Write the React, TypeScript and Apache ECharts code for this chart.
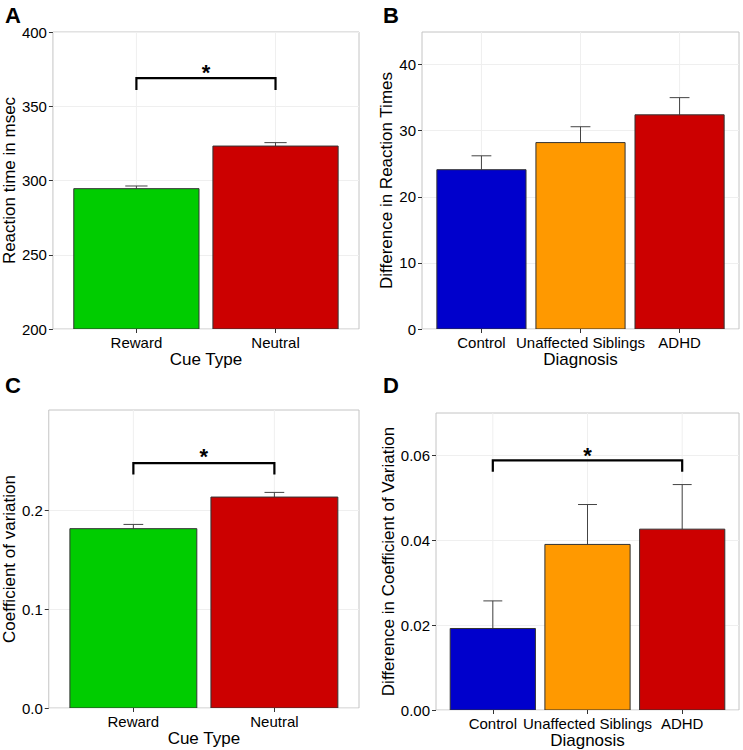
import React, { useEffect, useRef } from "react";
import * as echarts from "echarts";

// ---- Data ----
const cueCategories = ["Reward", "Neutral"];
const diagCategories = ["Control", "Unaffected Siblings", "ADHD"];
const cueColors = ["#00cc00", "#cc0000"];
const diagColors = ["#0000cc", "#ff9900", "#cc0000"];

// Panel A: reaction time (msec)
const rtMeans = [294.5, 323.2];
const rtUpper = [296.3, 325.5];
const rtYTicks = [200, 250, 300, 350, 400];
const rtBracket = [1, 2, 361, 369, 375.9];

// Panel B: difference in reaction times
const rtDiffMeans = [24.1, 28.2, 32.4];
const rtDiffUpper = [26.2, 30.6, 35.0];
const rtDiffYTicks = [0, 10, 20, 30, 40];

// Panel C: coefficient of variation
const cvMeans = [0.1815, 0.2135];
const cvUpper = [0.1858, 0.2182];
const cvYTicks = [0, 0.1, 0.2];
const cvBracket = [1, 2, 0.2364, 0.2479, 0.2597];

// Panel D: difference in coefficient of variation
const cvDiffMeans = [0.0192, 0.039, 0.0426];
const cvDiffUpper = [0.0257, 0.0484, 0.0531];
const cvDiffYTicks = [0, 0.02, 0.04, 0.06];
const cvDiffBracket = [1, 3, 0.0561, 0.0588, 0.0612];

const FONT = "Liberation Sans, Arial, Helvetica, sans-serif";

type Panel = {
  letter: string;
  grid: { left: number; top: number; width: number; height: number };
  cats: string[];
  colors: string[];
  means: number[];
  upper: number[];
  yMin: number;
  yMax: number;
  yTicks: number[];
  decimals: number;
  xName: string;
  yName: string;
  xNameGap: number;
  yNameGap: number;
  whisker: number;
  bracket?: number[];
  letterPos: [number, number];
};

const panels: Panel[] = [
  {
    letter: "A",
    grid: { left: 52, top: 32, width: 307, height: 297 },
    cats: cueCategories,
    colors: cueColors,
    means: rtMeans,
    upper: rtUpper,
    yMin: 200,
    yMax: 400,
    yTicks: rtYTicks,
    decimals: 0,
    xName: "Cue Type",
    yName: "Reaction time in msec",
    xNameGap: 21,
    yNameGap: 33,
    whisker: 0.16,
    bracket: rtBracket,
    letterPos: [5, 4],
  },
  {
    letter: "B",
    grid: { left: 422, top: 32, width: 317, height: 297 },
    cats: diagCategories,
    colors: diagColors,
    means: rtDiffMeans,
    upper: rtDiffUpper,
    yMin: 0,
    yMax: 44.93,
    yTicks: rtDiffYTicks,
    decimals: 0,
    xName: "Diagnosis",
    yName: "Difference in Reaction Times",
    xNameGap: 19,
    yNameGap: 22,
    whisker: 0.2,
    letterPos: [383, 4],
  },
  {
    letter: "C",
    grid: { left: 48, top: 410, width: 311, height: 298 },
    cats: cueCategories,
    colors: cueColors,
    means: cvMeans,
    upper: cvUpper,
    yMin: 0,
    yMax: 0.3016,
    yTicks: cvYTicks,
    decimals: 1,
    xName: "Cue Type",
    yName: "Coefficient of variation",
    xNameGap: 21,
    yNameGap: 30,
    whisker: 0.14,
    bracket: cvBracket,
    letterPos: [5, 374],
  },
  {
    letter: "D",
    grid: { left: 436, top: 413, width: 303, height: 297 },
    cats: diagCategories,
    colors: diagColors,
    means: cvDiffMeans,
    upper: cvDiffUpper,
    yMin: 0,
    yMax: 0.06996,
    yTicks: cvDiffYTicks,
    decimals: 2,
    xName: "Diagnosis",
    yName: "Difference in Coefficient of Variation",
    xNameGap: 21,
    yNameGap: 38,
    whisker: 0.2,
    bracket: cvDiffBracket,
    letterPos: [383, 374],
  },
];

function buildOption() {
  const grid: any[] = [];
  const xAxis: any[] = [];
  const yAxis: any[] = [];
  const series: any[] = [];
  const graphic: any[] = [];

  panels.forEach((p, i) => {
    const n = p.cats.length;
    grid.push({
      ...p.grid,
      show: true,
      backgroundColor: "#ffffff",
      borderColor: "#c4c4c4",
      borderWidth: 1,
      containLabel: false,
    });
    const catValues = p.cats.map((_, k) => k + 1);
    xAxis.push({
      type: "value",
      gridIndex: i,
      min: 0.4,
      max: n + 0.6,
      axisLine: { show: false },
      splitLine: { show: false },
      axisTick: {
        show: true,
        customValues: catValues,
        length: 4,
        lineStyle: { color: "#333333", width: 1 },
      },
      axisLabel: {
        show: true,
        customValues: catValues,
        formatter: (v: number) => p.cats[Math.round(v) - 1] ?? "",
        color: "#000000",
        fontSize: 15,
        fontFamily: FONT,
        margin: 6,
      },
      name: p.xName,
      nameLocation: "middle",
      nameGap: p.xNameGap,
      nameTextStyle: { color: "#000000", fontSize: 17, fontFamily: FONT },
    });
    yAxis.push({
      type: "value",
      gridIndex: i,
      min: p.yMin,
      max: p.yMax,
      axisLine: { show: false },
      splitLine: { show: true, lineStyle: { color: "#efefef", width: 1 } },
      axisTick: {
        show: true,
        customValues: p.yTicks,
        length: 4,
        lineStyle: { color: "#333333", width: 1 },
      },
      axisLabel: {
        show: true,
        customValues: p.yTicks,
        formatter: (v: number) => v.toFixed(p.decimals),
        color: "#000000",
        fontSize: 15,
        fontFamily: FONT,
        margin: 6,
      },
      name: p.yName,
      nameLocation: "middle",
      nameGap: p.yNameGap,
      nameRotate: 90,
      nameTextStyle: { color: "#000000", fontSize: 17, fontFamily: FONT },
    });

    const data = p.means.map((m, k) => [k + 1, m, p.upper[k]]);
    series.push({
      type: "custom",
      xAxisIndex: i,
      yAxisIndex: i,
      clip: true,
      data,
      renderItem: (params: any, api: any) => {
        const x = api.value(0);
        const mean = api.value(1);
        const up = api.value(2);
        const idx = params.dataIndex;
        const gTop = api.coord([x, p.yMax]);
        const gBot = api.coord([x, p.yMin]);
        const top = api.coord([x, mean]);
        const upPt = api.coord([x, up]);
        const wl = api.coord([x - p.whisker / 2, up]);
        const wr = api.coord([x + p.whisker / 2, up]);
        const bl = api.coord([x - 0.45, mean]);
        const br = api.coord([x + 0.45, p.yMin]);
        return {
          type: "group",
          children: [
            {
              type: "line",
              shape: { x1: gTop[0], y1: gTop[1], x2: gBot[0], y2: gBot[1] },
              style: { stroke: "#efefef", lineWidth: 1 },
            },
            {
              type: "line",
              shape: { x1: top[0], y1: top[1], x2: upPt[0], y2: upPt[1] },
              style: { stroke: "#444444", lineWidth: 1 },
            },
            {
              type: "line",
              shape: { x1: wl[0], y1: wl[1], x2: wr[0], y2: wr[1] },
              style: { stroke: "#444444", lineWidth: 1 },
            },
            {
              type: "rect",
              shape: {
                x: bl[0],
                y: bl[1],
                width: br[0] - bl[0],
                height: br[1] - bl[1],
              },
              style: {
                fill: p.colors[idx],
                stroke: "#333333",
                lineWidth: 1,
              },
            },
          ],
        };
      },
    });

    if (p.bracket) {
      series.push({
        type: "custom",
        xAxisIndex: i,
        yAxisIndex: i,
        data: [p.bracket],
        renderItem: (_params: any, api: any) => {
          const x1 = api.value(0);
          const x2 = api.value(1);
          const yLow = api.value(2);
          const yHigh = api.value(3);
          const yStar = api.value(4);
          const a = api.coord([x1, yLow]);
          const b = api.coord([x1, yHigh]);
          const c = api.coord([x2, yHigh]);
          const d = api.coord([x2, yLow]);
          const s = api.coord([(x1 + x2) / 2, yStar]);
          return {
            type: "group",
            children: [
              {
                type: "polyline",
                shape: { points: [a, b, c, d] },
                style: { stroke: "#000000", lineWidth: 2.2, fill: "none" },
              },
              {
                type: "text",
                x: s[0],
                y: s[1] + 5,
                style: {
                  text: "*",
                  fill: "#000000",
                  fontSize: 22,
                  fontWeight: "bold",
                  fontFamily: FONT,
                  align: "center",
                  verticalAlign: "middle",
                },
              },
            ],
          };
        },
      });
    }

    graphic.push({
      type: "text",
      left: p.letterPos[0],
      top: p.letterPos[1],
      style: {
        text: p.letter,
        fill: "#000000",
        fontSize: 22,
        fontWeight: "bold",
        fontFamily: FONT,
      },
    });
  });

  return {
    animation: false,
    backgroundColor: "#ffffff",
    grid,
    xAxis,
    yAxis,
    series,
    graphic,
  };
}

export default function App() {
  const ref = useRef<HTMLDivElement>(null);
  useEffect(() => {
    document.body.style.margin = "0";
    if (!ref.current) return;
    const chart = echarts.init(ref.current, undefined, { renderer: "svg" });
    chart.setOption(buildOption() as any);
    return () => chart.dispose();
  }, []);
  return <div ref={ref} style={{ width: 743, height: 750 }} />;
}
